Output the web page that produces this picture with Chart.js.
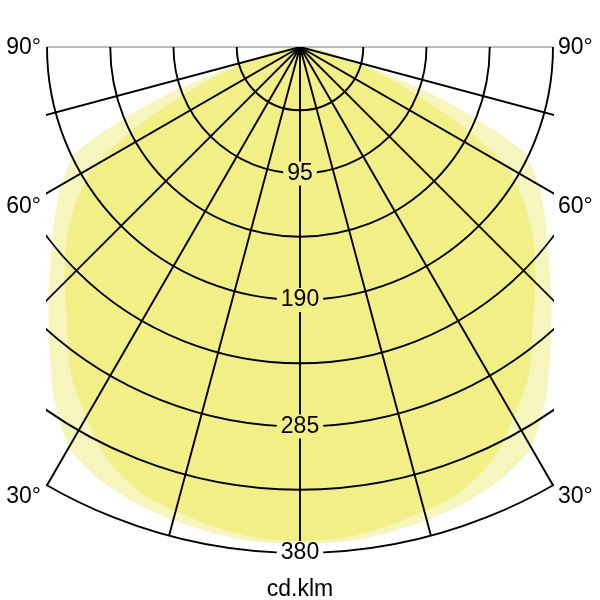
<!DOCTYPE html>
<html>
<head>
<meta charset="utf-8">
<script src="https://cdn.jsdelivr.net/npm/chart.js@4.4.1/dist/chart.umd.min.js"></script>
<style>
  html, body { margin: 0; padding: 0; background: #fff; }
  #wrap { width: 600px; height: 600px; }
</style>
</head>
<body>
<div id="wrap"><canvas id="ldc" width="600" height="600"></canvas></div>
<script>
// gamma angles from nadir (one half, the other side mirrors it)
const gammaAngles = [0, 5, 10, 15, 20, 25, 30, 35, 40, 45, 50, 55, 60, 65, 70, 75, 80, 85, 90];
// cd/klm, pale curve and saturated curve
const planeC0 = [373, 373, 371, 368, 364, 358, 347, 322, 293, 267, 244, 225, 207, 184, 112, 44, 14, 4, 0];
const planeC90 = [371, 370, 366, 361, 355, 342, 321, 300, 272, 250, 229, 206, 178, 125, 74, 40, 20, 8, 0];
const intensityTicks = [95, 190, 285, 380];
const gridStep = 47.5;
const gridAngles = [-90, -75, -60, -45, -30, -15, 0, 15, 30, 45, 60, 75, 90];
const angleLabels = ["90°", "60°", "30°"];
const unitLabel = "cd.klm";

const FONT = '23px "Liberation Sans", Arial, sans-serif';

function curvePoints(values) {
  const pts = [{x: 0, y: 0}];
  for (let i = gammaAngles.length - 1; i >= 0; i--) {
    const g = -gammaAngles[i] * Math.PI / 180;
    pts.push({x: values[i] * Math.sin(g), y: -values[i] * Math.cos(g)});
  }
  for (let i = 1; i < gammaAngles.length; i++) {
    const g = gammaAngles[i] * Math.PI / 180;
    pts.push({x: values[i] * Math.sin(g), y: -values[i] * Math.cos(g)});
  }
  pts.push({x: 0, y: 0});
  return pts;
}

const polarGrid = {
  id: 'polarGrid',
  afterDatasetsDraw(chart) {
    const ctx = chart.ctx;
    const xs = chart.scales.x, ys = chart.scales.y;
    const cx = xs.getPixelForValue(0), cy = ys.getPixelForValue(0);
    const maxR = intensityTicks[intensityTicks.length - 1];
    const rPx = v => ys.getPixelForValue(-v) - cy;
    const left = xs.getPixelForValue(-190), right = xs.getPixelForValue(190);

    ctx.save();
    ctx.font = FONT;
    const boxes = intensityTicks.map(v => {
      const w = ctx.measureText(String(v)).width + 8;
      return {v, x: cx - w / 2, y: cy + rPx(v) - 12, w, h: 24};
    });

    // top line
    ctx.strokeStyle = '#777';
    ctx.lineWidth = 1.2;
    ctx.beginPath();
    ctx.moveTo(left, cy);
    ctx.lineTo(right, cy);
    ctx.stroke();

    ctx.beginPath();
    ctx.rect(left - 1, cy, right - left + 2, rPx(maxR) + 4);
    ctx.clip();
    ctx.beginPath();
    ctx.arc(cx, cy, rPx(maxR) + 2, 0, Math.PI * 2);
    ctx.clip();
    ctx.beginPath();
    ctx.rect(0, 0, chart.width, chart.height);
    boxes.forEach(b => ctx.rect(b.x, b.y, b.w, b.h));
    ctx.clip('evenodd');

    ctx.strokeStyle = '#000';
    ctx.lineWidth = 1.9;
    for (let v = gridStep; v <= maxR + 0.01; v += gridStep) {
      ctx.beginPath();
      ctx.arc(cx, cy, rPx(v), 0, Math.PI);
      ctx.stroke();
    }
    gridAngles.forEach(a => {
      if (Math.abs(a) === 90) return;
      const t = a * Math.PI / 180;
      ctx.beginPath();
      ctx.moveTo(cx, cy);
      ctx.lineTo(xs.getPixelForValue(maxR * Math.sin(t)), ys.getPixelForValue(-maxR * Math.cos(t)));
      ctx.stroke();
    });
    ctx.restore();

    ctx.save();
    ctx.font = FONT;
    ctx.fillStyle = '#000';
    ctx.textAlign = 'center';
    ctx.textBaseline = 'middle';
    boxes.forEach(b => ctx.fillText(String(b.v), cx, b.y + 12));

    const labelY = [48, 207, 497];
    angleLabels.forEach((txt, i) => {
      ctx.textAlign = 'right';
      ctx.fillText(txt, left - 6, labelY[i]);
      ctx.textAlign = 'left';
      ctx.fillText(txt, right + 5, labelY[i]);
    });

    ctx.textAlign = 'center';
    ctx.textBaseline = 'alphabetic';
    ctx.fillText(unitLabel, cx, 596);
    ctx.restore();
  }
};

const chart = new Chart(document.getElementById('ldc'), {
  type: 'scatter',
  data: {
    datasets: [{
      data: curvePoints(planeC90),
      showLine: true,
      fill: 'shape',
      backgroundColor: 'rgb(241, 239, 133)',
      borderColor: 'rgba(0,0,0,0)',
      borderWidth: 0,
      pointRadius: 0,
      tension: 0.25,
      order: 0
    }, {
      data: curvePoints(planeC0),
      showLine: true,
      fill: 'shape',
      backgroundColor: 'rgb(247, 245, 190)',
      borderColor: 'rgba(0,0,0,0)',
      borderWidth: 0,
      pointRadius: 0,
      tension: 0.25,
      order: 1
    }]
  },
  options: {
    responsive: false,
    animation: false,
    events: [],
    layout: { padding: 0 },
    plugins: { legend: { display: false }, tooltip: { enabled: false } },
    scales: {
      x: { type: 'linear', min: -225.3, max: 225.3, display: false },
      y: { type: 'linear', min: -415.3, max: 35.3, display: false }
    }
  },
  plugins: [polarGrid]
});
</script>
</body>
</html>
